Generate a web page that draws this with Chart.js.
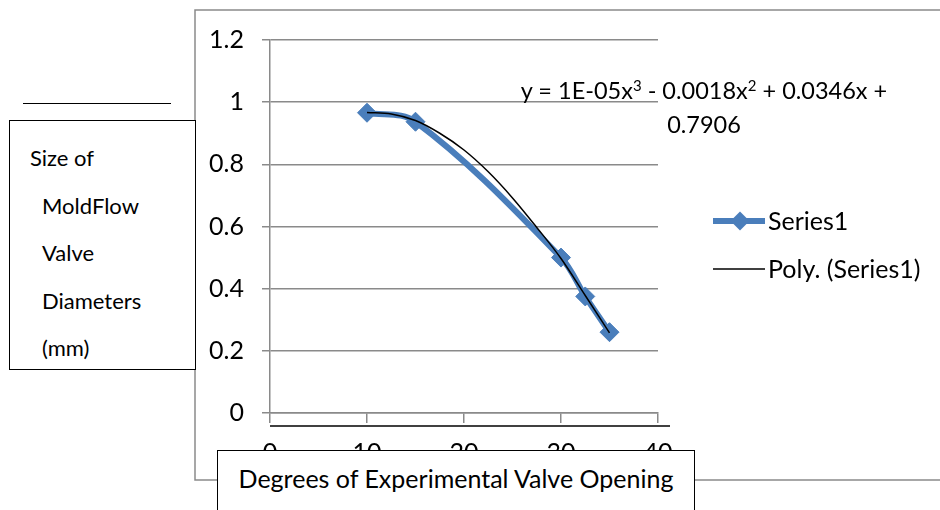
<!DOCTYPE html>
<html>
<head>
<meta charset="utf-8">
<script src="https://cdn.jsdelivr.net/npm/chart.js@4.4.1/dist/chart.umd.min.js"></script>
<style>
  html, body { margin: 0; padding: 0; background: #ffffff; }
  #wrap { position: relative; width: 940px; height: 510px; overflow: hidden; font-family: Lato, "Open Sans", sans-serif; color: #000; }
  #chart { position: absolute; left: 0; top: 0; }
  .box { position: absolute; background: #fff; border: 1.5px solid #000; box-sizing: border-box; }
  #yTitle { left: 9px; top: 120px; width: 187px; height: 250px; font-size: 22px; }
  #yTitle div { position: absolute; left: 32px; line-height: 24px; white-space: nowrap; }
  #yTitle div.first { left: 20px; }
  #yRule { position: absolute; left: 23px; top: 103px; width: 148px; border-top: 1.5px solid #000; }
  #xTitle { left: 217px; top: 450px; width: 478px; height: 90px; font-size: 25px; text-align: center; line-height: 28px; padding-top: 13px; }
  #eq { position: absolute; left: 504px; top: 73px; width: 400px; text-align: center; font-size: 23.5px; line-height: 34px; white-space: nowrap; }
  #eq sup { font-size: 15px; vertical-align: 8px; line-height: 0; }
</style>
</head>
<body>
<div id="wrap">
  <canvas id="chart" width="940" height="510"></canvas>
  <div id="eq">y = 1E-05x<sup>3</sup> - 0.0018x<sup>2</sup> + 0.0346x +<br>0.7906</div>
  <div id="yRule"></div>
  <div id="yTitle" class="box"></div>
  <div id="xTitle" class="box"></div>
</div>
<script>
// values
const openingDeg = [10, 15, 30, 32.5, 35];
const valveDiam = [0.966, 0.937, 0.5, 0.375, 0.26];

// polynomial trendline as drawn in the picture
const trendDeg = [10, 12.5, 15, 17.5, 20, 22.5, 25, 27.5, 30, 32.5, 35];
const trendDiam = [0.967, 0.962, 0.941, 0.9, 0.846, 0.776, 0.692, 0.597, 0.497, 0.378, 0.258];

const xTickValues = [0, 10, 20, 30, 40];
const yTickValues = [0, 0.2, 0.4, 0.6, 0.8, 1, 1.2];
const yTitleLines = ["Size of", "MoldFlow", "Valve", "Diameters", "(mm)"];
const xTitle = "Degrees of Experimental Valve Opening";
const seriesName = "Series1";
const trendName = "Poly. (Series1)";

const BLUE = "#4a7ebb";
const GRID = "#8a8a8a";
const FONT = "Lato, 'Open Sans', sans-serif";

// y title lines
const yBox = document.getElementById("yTitle");
yTitleLines.forEach((line, i) => {
  const el = document.createElement("div");
  el.textContent = line;
  if (i === 0) el.className = "first";
  el.style.top = (25 + i * 47.5) + "px";
  yBox.appendChild(el);
});
document.getElementById("xTitle").textContent = xTitle;

const toPoints = (xs, ys) => xs.map((x, i) => ({ x: x, y: ys[i] }));

const framePlugin = {
  id: "frame",
  beforeDraw(chart) {
    const ctx = chart.ctx;
    ctx.save();
    ctx.strokeStyle = GRID;
    ctx.lineWidth = 1.5;
    ctx.beginPath();
    ctx.moveTo(941, 10);
    ctx.lineTo(195, 10);
    ctx.lineTo(195, 480);
    ctx.lineTo(941, 480);
    ctx.stroke();
    ctx.restore();
  },
  afterDraw(chart) {
    const ctx = chart.ctx;
    const area = chart.chartArea;
    ctx.save();
    // black rule under the x axis
    ctx.strokeStyle = "#000";
    ctx.lineWidth = 1.5;
    ctx.beginPath();
    ctx.moveTo(area.left, 426);
    ctx.lineTo(670, 426);
    ctx.stroke();

    // legend
    const items = chart.data.datasets.slice().sort((a, b) => b.order - a.order);
    let y = 221;
    ctx.font = "25px " + FONT;
    ctx.textBaseline = "middle";
    items.forEach((ds) => {
      ctx.strokeStyle = ds.borderColor;
      ctx.lineWidth = ds.borderWidth;
      ctx.beginPath();
      ctx.moveTo(713, y);
      ctx.lineTo(765, y);
      ctx.stroke();
      if (ds.pointRadius > 0) {
        const r = ds.pointRadius;
        ctx.fillStyle = ds.backgroundColor;
        ctx.beginPath();
        ctx.moveTo(740, y - r);
        ctx.lineTo(740 + r, y);
        ctx.lineTo(740, y + r);
        ctx.lineTo(740 - r, y);
        ctx.closePath();
        ctx.fill();
      }
      ctx.fillStyle = "#000";
      ctx.fillText(ds.label, 768, y + 1);
      y += 48;
    });
    ctx.restore();
  },
};

new Chart(document.getElementById("chart"), {
  type: "scatter",
  data: {
    datasets: [
      {
        label: trendName,
        data: toPoints(trendDeg, trendDiam),
        showLine: true,
        borderColor: "#000000",
        backgroundColor: "#000000",
        borderWidth: 1.5,
        pointRadius: 0,
        cubicInterpolationMode: "monotone",
        order: 0,
      },
      {
        label: seriesName,
        data: toPoints(openingDeg, valveDiam),
        showLine: true,
        borderColor: BLUE,
        backgroundColor: BLUE,
        borderWidth: 6,
        tension: 0.35,
        pointStyle: "rectRot",
        pointRadius: 9.5,
        pointBorderWidth: 1,
        pointBackgroundColor: BLUE,
        pointBorderColor: BLUE,
        order: 1,
      },
    ],
  },
  options: {
    responsive: false,
    animation: false,
    events: [],
    layout: { padding: { left: 190, right: 282, top: 40, bottom: 0 } },
    plugins: {
      legend: { display: false },
      tooltip: { enabled: false },
    },
    scales: {
      x: {
        type: "linear",
        min: 0,
        max: 40,
        afterBuildTicks: (scale) => { scale.ticks = xTickValues.map((v) => ({ value: v })); },
        afterFit: (scale) => { scale.height = 97; },
        grid: { drawOnChartArea: false, drawTicks: true, tickLength: 10, color: GRID, lineWidth: 1.5 },
        border: { display: true, color: GRID, width: 1.5 },
        ticks: { color: "#000", padding: 15, maxRotation: 0, font: { family: FONT, size: 25 } },
      },
      y: {
        type: "linear",
        min: 0,
        max: 1.2,
        afterBuildTicks: (scale) => { scale.ticks = yTickValues.map((v) => ({ value: v })); },
        afterFit: (scale) => { scale.width = 80; },
        grid: { drawTicks: true, tickLength: 8, color: GRID, lineWidth: 1.5 },
        border: { display: true, color: GRID, width: 1.5 },
        ticks: {
          color: "#000",
          padding: 18,
          font: { family: FONT, size: 25 },
          callback: (value) => String(Number(value.toFixed(2))),
        },
      },
    },
  },
  plugins: [framePlugin],
});
</script>
</body>
</html>
